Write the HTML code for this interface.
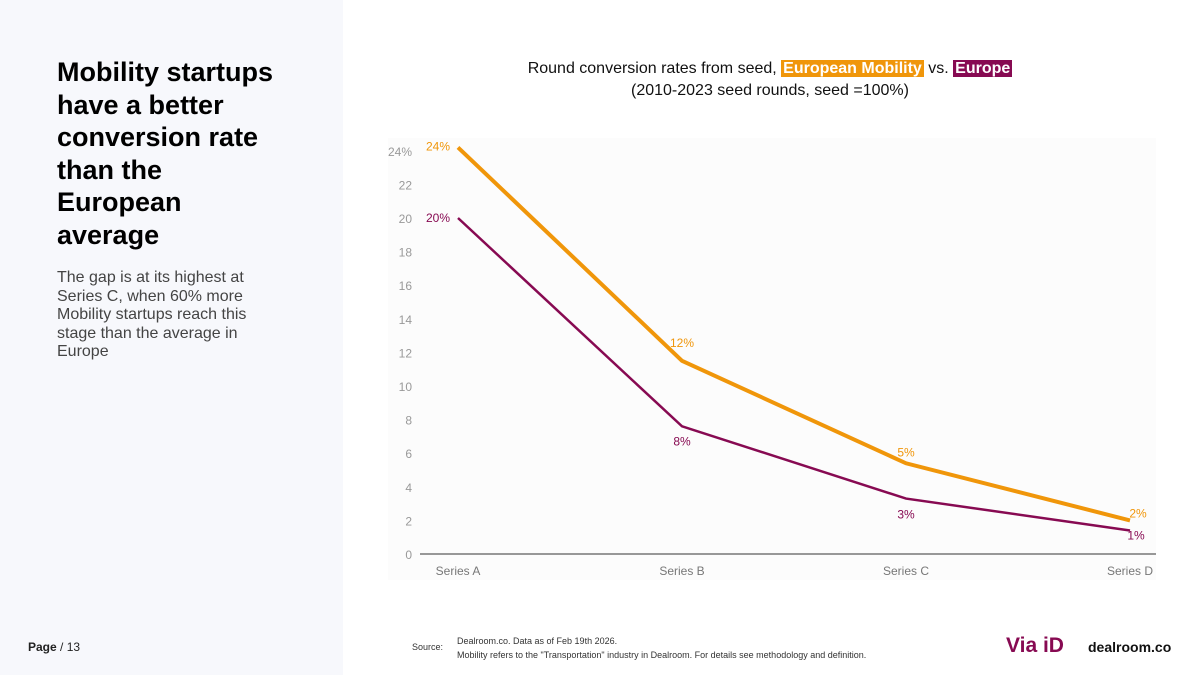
<!DOCTYPE html>
<html><head><meta charset="utf-8"><style>
body{margin:0;width:1200px;height:675px;background:#fff;font-family:"Liberation Sans",sans-serif;position:relative;overflow:hidden}
.left{position:absolute;left:0;top:0;width:343px;height:675px;background:#f7f8fc}
h1{position:absolute;left:57px;top:56px;margin:0;font-size:27px;line-height:32.5px;font-weight:bold;color:#000;width:228px}
.sub{position:absolute;left:57px;top:269px;font-size:16px;line-height:18.5px;color:#444;width:230px}
.page{position:absolute;left:28px;top:640px;font-size:12px;color:#222}
.title{position:absolute;left:400px;width:740px;top:58px;text-align:center;font-size:16px;line-height:22px;color:#111}
.hl1{background:#f0960a;color:#fff;font-weight:bold;padding:0 2px}
.hl2{background:#870a52;color:#fff;font-weight:bold;padding:0 2px}
.src{position:absolute;left:412px;top:642px;font-size:9px;color:#333}
.srcr{position:absolute;left:457px;top:634px;font-size:9px;line-height:14px;color:#333}
.via{position:absolute;left:1006px;top:634px;font-size:21px;color:#870a52;font-weight:bold}
.dr{position:absolute;left:1088px;top:639px;font-size:14px;font-weight:bold;color:#111}
</style></head><body>
<div class="left"></div>
<h1>Mobility startups have a better conversion rate than the European average</h1>
<div class="sub">The gap is at its highest at Series C, when 60% more Mobility startups reach this stage than the average in Europe</div>
<div class="page"><b>Page</b> / 13</div>
<div class="title">Round conversion rates from seed, <span class="hl1">European Mobility</span> vs. <span class="hl2">Europe</span><br>(2010-2023 seed rounds, seed =100%)</div>
<svg id="chart" width="1200" height="675" style="position:absolute;left:0;top:0"></svg>
<div class="src">Source:</div>
<div class="srcr">Dealroom.co. Data as of Feb 19th 2026.<br>Mobility refers to the "Transportation" industry in Dealroom. For details see methodology and definition.</div>
<div class="via">Via iD</div>
<div class="dr">dealroom.co</div>
<script>
const categories=["Series A","Series B","Series C","Series D"];
const mobility=[24.2,11.5,5.4,2.0];
const europe=[20.0,7.6,3.3,1.4];
const mobLabels=["24%","12%","5%","2%"];
const eurLabels=["20%","8%","3%","1%"];
const yTicks=[0,2,4,6,8,10,12,14,16,18,20,22,24];
const NS="http://www.w3.org/2000/svg";
const svg=document.getElementById('chart');
const x=i=>458+i*224;
const y=v=>554-v*16.8;
function mk(t,a){const e=document.createElementNS(NS,t);for(const k in a)e.setAttribute(k,a[k]);svg.appendChild(e);return e;}
const bg=mk('rect',{x:388,y:138,width:768,height:442,fill:'#fcfcfc'});


yTicks.forEach(v=>{const t=mk('text',{x:412,y:y(v)+5,'text-anchor':'end','font-size':12,fill:'#999','font-family':'Liberation Sans'});t.textContent=v===24?'24%':v;

});
const ax=mk('line',{x1:420,x2:1156,y1:y(0),y2:y(0),stroke:'#333','stroke-width':1});


categories.forEach((c,i)=>{const t=mk('text',{x:x(i),y:575,'text-anchor':'middle','font-size':12,fill:'#777','font-family':'Liberation Sans'});t.textContent=c;

});
function series(vals,labels,color,w,name,offs){
const p=mk('polyline',{points:vals.map((v,i)=>x(i)+','+y(v)).join(' '),fill:'none',stroke:color,'stroke-width':w});


vals.forEach((v,i)=>{const t=mk('text',{x:x(i)+offs[i][0],y:y(v)+offs[i][1],'text-anchor':'middle','font-size':12,fill:color,'font-family':'Liberation Sans'});t.textContent=labels[i];

});}
series(mobility,mobLabels,'#f0960a',4,'mobility',[[-20,3],[0,-14],[0,-7],[8,-3]]);
series(europe,eurLabels,'#870a52',2.5,'europe',[[-20,4],[0,19],[0,20],[6,9]]);
</script>
</body></html>
